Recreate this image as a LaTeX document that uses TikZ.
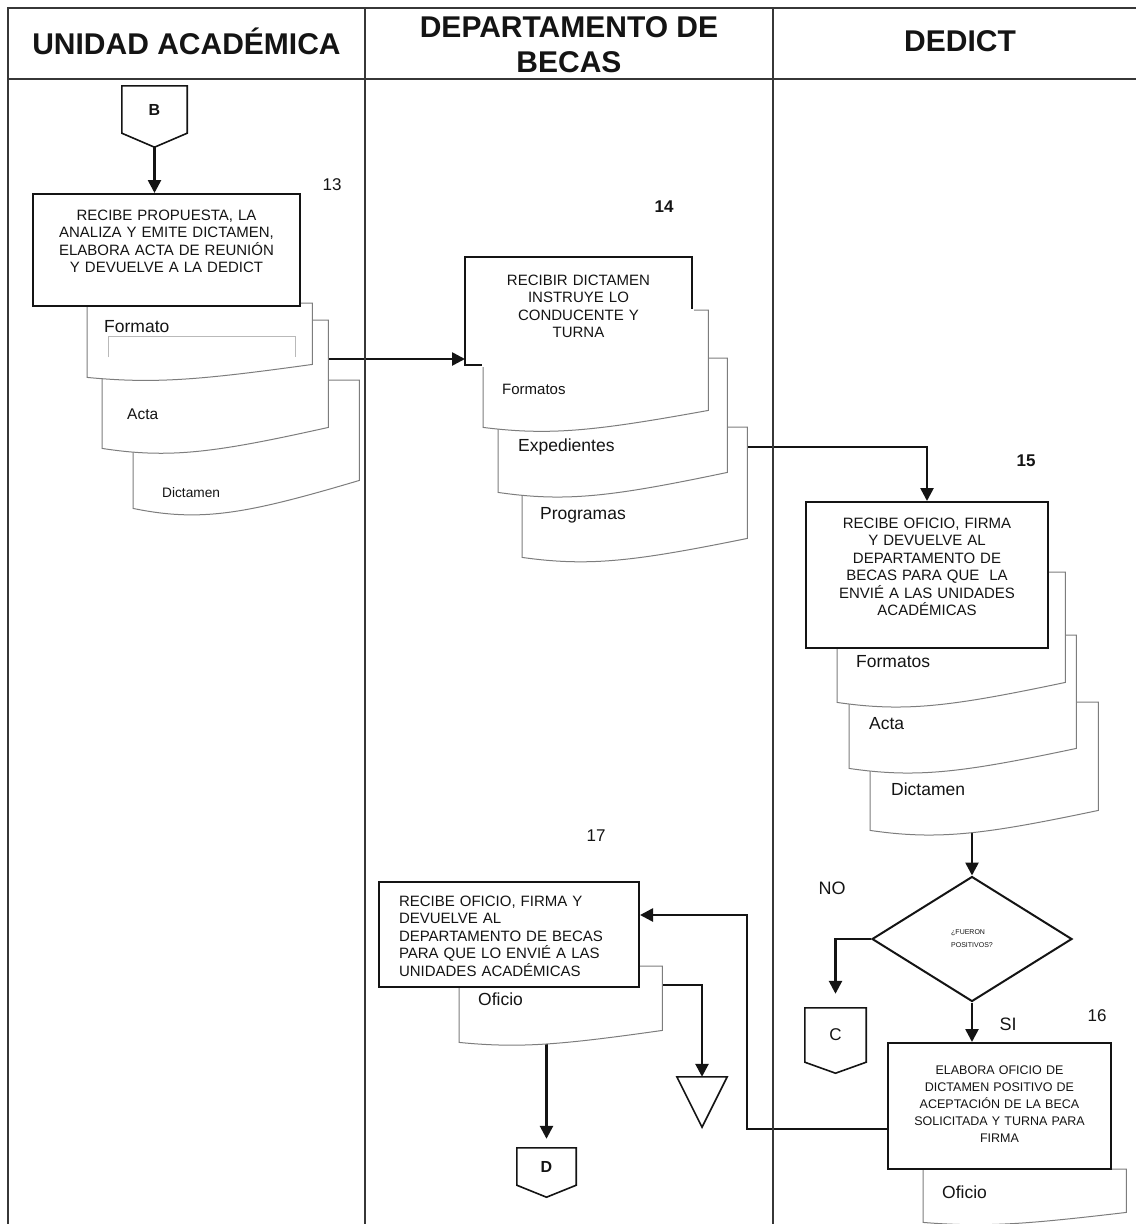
\documentclass[tikz,border=0pt]{standalone}
\usepackage{fontspec}
\setmainfont{Liberation Sans}
\usepackage{tikz}
\usetikzlibrary{shapes.geometric, arrows.meta, positioning, calc}
\pgfdeclarelayer{back}
\pgfdeclarelayer{front}
\pgfsetlayers{back,main,front}
\definecolor{mydark}{RGB}{20,20,20}
\definecolor{mylane}{RGB}{55,55,55}
\definecolor{mydoc}{RGB}{125,125,125}
\definecolor{myfield}{RGB}{185,185,185}
\tikzset{
  boxline/.style={draw=mydark, line width=2pt},
  taskbox/.style={rectangle, boxline, fill=white, anchor=north west,
    align=center, inner sep=0pt, text=mydark,
    font=\fontsize{15}{17.5}\selectfont},
  docnode/.style={rectangle, draw=none, anchor=north west, inner sep=0pt},
  docline/.style={draw=mydoc, fill=white, line width=1pt},
  doclbl/.style={anchor=west, inner sep=0pt, text=mydark,
    font=\fontsize{17.5}{20}\selectfont},
  fieldline/.style={draw=myfield, line width=1pt},
  offnode/.style={rectangle, draw=none, inner sep=0pt, text=mydark,
    font=\fontsize{16}{18}\selectfont},
  shapeline/.style={draw=mydark, line width=1.6pt},
  decision/.style={diamond, boxline, fill=white, minimum width=200pt,
    minimum height=125pt, inner sep=0pt, align=left, text=mydark,
    font=\fontsize{7}{13}\selectfont},
  lanehdr/.style={align=center, inner sep=0pt, text=mydark,
    font=\fontsize{30}{35}\selectfont\bfseries},
  stepnum/.style={inner sep=0pt, text=mydark, font=\fontsize{17}{20}\selectfont},
  flowlbl/.style={inner sep=0pt, text=mydark, font=\fontsize{18}{20}\selectfont},
  frameline/.style={line width=2.5pt, color=mylane},
  laneline/.style={line width=1.5pt, color=mylane},
  arrow/.style={-{Triangle[length=13pt,width=13pt]}, line width=2.6pt, color=mydark}
}
% document symbol with wavy bottom, drawn on a node's box
\newcommand{\docshape}[2]{%
  \draw[docline] (#1.north west) -- (#1.north east) -- (#1.south east)
    .. controls ($(#1.south west)!0.5!(#1.south east)+(0,1.2*#2)$)
    and ($(#1.south west)!0.3!(#1.south east)+(0,1.5*#2)$)
    .. ($(#1.south west)+(0,#2)$) -- cycle;}
% off-page connector (pentagon pointing down)
\newcommand{\offpage}[2]{%
  \draw[shapeline] (#1.north west) -- (#1.north east) -- (#1.south east)
    -- ($(#1.south)+(0,#2)$) -- (#1.south west) -- cycle;}

\begin{document}
\begin{tikzpicture}[x=1pt, y=-1pt]
  \useasboundingbox (0,0) rectangle (1136,1224);
  % swimlanes
  \draw[frameline] (8,1224) -- (8,8) -- (1136,8);
  \draw[frameline] (8,79) -- (1136,79);
  \draw[laneline] (365,8) -- (365,1224);
  \draw[laneline] (773,8) -- (773,1224);
  \node[lanehdr] (hdrUA) at (186.5,41) {UNIDAD ACADÉMICA};
  \node[lanehdr] (hdrDB) at (569,44.5) {DEPARTAMENTO DE\\BECAS};
  \node[lanehdr] (hdrDE) at (960,41) {DEDICT};

  % step 13
  \node[offnode, minimum width=65pt, minimum height=47pt] (cB) at (154.5,109.5) {\bfseries B};
  \offpage{cB}{14}
  \coordinate (cBtip) at ($(cB.south)+(0,14)$);
  \node[docnode, minimum width=226pt, minimum height=100pt] (dict13) at (133,380) {};
  \docshape{dict13}{28}
  \node[doclbl, font=\fontsize{13.7}{16}\selectfont] (dict13l) at ($(dict13.north west)+(29,113)$) {Dictamen};
  \node[docnode, minimum width=226pt, minimum height=107pt] (acta13) at (102,320) {};
  \docshape{acta13}{21}
  \node[doclbl, font=\fontsize{15.5}{18}\selectfont] (acta13l) at ($(acta13.north west)+(25,94)$) {Acta};
  \node[docnode, minimum width=225pt, minimum height=61pt] (fmt13) at (87,303) {};
  \docshape{fmt13}{13}
  \draw[fieldline] ($(fmt13.north west)+(21,54)$) |- ($(fmt13.north west)+(208,33)$) -- ($(fmt13.north west)+(208,54)$);
  \node[doclbl] (fmt13l) at ($(fmt13.north west)+(17,24)$) {Formato};
  \node[taskbox, minimum width=267pt, minimum height=112pt, text width=250pt, text depth=70pt] (b13) at (32,193)
    {RECIBE PROPUESTA, LA\\ANALIZA Y EMITE DICTAMEN,\\ELABORA ACTA DE REUNIÓN\\Y DEVUELVE A LA DEDICT};
  \node[stepnum] (n13) at (332,185) {13};

  % step 14
  \node[docnode, minimum width=225pt, minimum height=111pt] (prog14) at (522,427) {};
  \docshape{prog14}{19}
  \node[doclbl] (prog14l) at ($(prog14.north west)+(18,88)$) {Programas};
  \node[docnode, minimum width=229pt, minimum height=114pt] (exp14) at (498,358) {};
  \docshape{exp14}{20}
  \node[doclbl] (exp14l) at ($(exp14.north west)+(20,89)$) {Expedientes};
  \node[docnode, minimum width=225pt, minimum height=100pt] (fmts14) at (483,310) {};
  \docshape{fmts14}{17}
  \node[doclbl, font=\fontsize{15}{18}\selectfont] (fmts14l) at ($(fmts14.north west)+(19,79)$) {Formatos};
  \begin{pgfonlayer}{front}
    \node[taskbox, draw=none, fill=none, minimum width=225pt, minimum height=106pt, text width=200pt, text depth=62pt] (b14) at (465,257)
      {RECIBIR DICTAMEN\\INSTRUYE LO\\CONDUCENTE Y\\TURNA};
  \end{pgfonlayer}
  \draw[boxline] (b14.north west) rectangle (b14.south east);
  \fill[white] ($(fmts14.north west)+(-1.5,-1.5)$) rectangle ($(b14.south east)+(1.5,1.5)$);
  \node[stepnum] (n14) at (664,207) {\bfseries 14};

  % step 15
  \node[docnode, minimum width=228pt, minimum height=108pt] (dict15) at (870,702) {};
  \docshape{dict15}{20}
  \node[doclbl] (dict15l) at ($(dict15.north west)+(21,87)$) {Dictamen};
  \node[docnode, minimum width=227pt, minimum height=113pt] (acta15) at (849,635) {};
  \docshape{acta15}{20}
  \node[doclbl] (acta15l) at ($(acta15.north west)+(20,89)$) {Acta};
  \node[docnode, minimum width=228pt, minimum height=110pt] (fmts15) at (837,572) {};
  \docshape{fmts15}{20}
  \node[doclbl] (fmts15l) at ($(fmts15.north west)+(19,90)$) {Formatos};
  \node[taskbox, minimum width=242pt, minimum height=146pt, text width=230pt, text depth=104pt] (b15) at (805,501)
    {RECIBE OFICIO, FIRMA\\Y DEVUELVE AL\\DEPARTAMENTO DE\\BECAS PARA QUE \ LA\\ENVIÉ A LAS UNIDADES\\ACADÉMICAS};
  \node[stepnum] (n15) at (1026,461) {\bfseries 15};

  % decision
  \node[decision] (dec) at (972,939) {¿FUERON\\POSITIVOS?};
  \node[flowlbl] (lblNO) at (832,888) {NO};
  \node[offnode, minimum width=61pt, minimum height=54pt, font=\fontsize{17}{20}\selectfont] (cC) at (835.5,1035) {C};
  \offpage{cC}{11}
  \node[flowlbl] (lblSI) at (1008,1024) {SI};

  % step 16
  \node[docnode, minimum width=203pt, minimum height=43pt] (ofi16) at (923,1169) {};
  \docshape{ofi16}{10}
  \node[doclbl] (ofi16l) at ($(ofi16.north west)+(19,23)$) {Oficio};
  \node[taskbox, minimum width=223pt, minimum height=126pt, text width=210pt, text depth=72pt,
    font=\fontsize{12.5}{17}\selectfont] (b16) at (887,1042)
    {ELABORA OFICIO DE\\DICTAMEN POSITIVO DE\\ACEPTACIÓN DE LA BECA\\SOLICITADA Y TURNA PARA\\FIRMA};
  \node[stepnum] (n16) at (1097,1016) {16};

  % step 17
  \node[docnode, minimum width=203pt, minimum height=64pt] (ofi17) at (459,966) {};
  \docshape{ofi17}{12}
  \node[doclbl] (ofi17l) at ($(ofi17.north west)+(19,33)$) {Oficio};
  \node[taskbox, minimum width=260pt, minimum height=105pt, text width=220pt, align=left, text depth=67pt] (b17) at (378,881)
    {RECIBE OFICIO, FIRMA Y\\DEVUELVE AL\\DEPARTAMENTO DE BECAS\\PARA QUE LO ENVIÉ A LAS\\UNIDADES ACADÉMICAS};
  \node[stepnum] (n17) at (596,836) {17};
  \node[offnode, minimum width=50pt, minimum height=50pt] (arch17) at (702,1102) {};
  \draw[shapeline] (arch17.north west) -- (arch17.north east) -- (arch17.south) -- cycle;
  \node[offnode, minimum width=59pt, minimum height=37pt] (cD) at (546.5,1166.5) {\bfseries D};
  \offpage{cD}{12}

  % connectors
  \begin{pgfonlayer}{back}
    \draw[arrow] (cBtip) -- (cBtip |- b13.north);
    \coordinate (in14) at ($(b14.south west)+(0,-6)$);
    \draw[arrow] (acta13.east |- in14) -- (in14);
    \draw[arrow] ($(prog14.north east)+(0,20)$) -| (b15.north);
    \draw[arrow] (dec.north |- dict15.south) -- (dec.north);
    \draw[arrow, shorten >=14pt] (dec.west) -| (cC.north);
    \draw[arrow] (dec.south) -- (dec.south |- b16.north);
    \coordinate (in17) at ($(b17.north east)+(0,34)$);
    \draw[arrow] ($(b16.south west)+(0,-41)$) -| ($(in17)+(107,0)$) -- (in17);
    \draw[arrow] ($(ofi17.north east)+(0,19)$) -| (arch17.north);
    \draw[arrow, shorten >=9pt] (cD.north |- ofi17.south) -- (cD.north);
  \end{pgfonlayer}
\end{tikzpicture}
\end{document}
